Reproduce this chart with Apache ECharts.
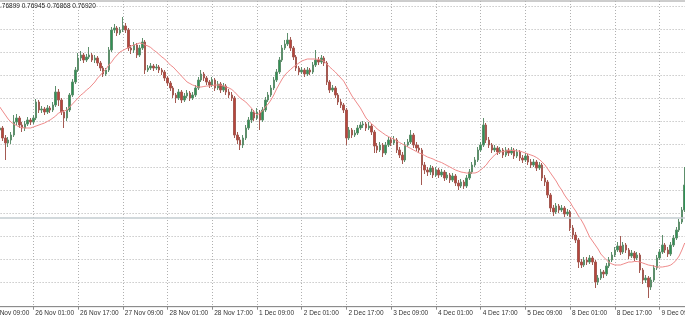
<!DOCTYPE html>
<html><head><meta charset="utf-8">
<script src="https://cdn.jsdelivr.net/npm/echarts@6/dist/echarts.min.js"></script>
<style>html,body{margin:0;padding:0;background:#fff}#c{width:685px;height:320px}</style>
</head><body><div id="c"></div>
<script>
const tickLabels = ['25 Nov 09:00','26 Nov 01:00','26 Nov 17:00','27 Nov 09:00','28 Nov 01:00','28 Nov 17:00','1 Dec 09:00','2 Dec 01:00','2 Dec 17:00','3 Dec 09:00','4 Dec 01:00','4 Dec 17:00','5 Dec 09:00','8 Dec 01:00','8 Dec 17:00','9 Dec 09:00'];
const barsPerLabel = 16;
const lastQuote = '0.76899 0.76945 0.76868 0.76920';
const bidPrice = 0.7692;
const priceMin = 0.7636, priceMax = 0.7912, priceStep = 0.0023;

const opens = [
.7810,.7806,.7800,.7793,.7788,.7790,.7780,.7775,.7778,.7783,
.7796,.7800,.7793,.7790,.7794,.7798,.7796,.7800,.7816,.7808,
.7809,.7806,.7810,.7808,.7813,.7826,.7818,.7806,.7800,.7808,
.7823,.7836,.7848,.7860,.7863,.7858,.7861,.7863,.7858,.7860,
.7855,.7850,.7844,.7848,.7868,.7888,.7890,.7885,.7888,.7892,
.7888,.7870,.7868,.7873,.7863,.7870,.7876,.7848,.7850,.7852,
.7850,.7851,.7848,.7846,.7840,.7835,.7830,.7823,.7820,.7826,
.7818,.7822,.7825,.7820,.7823,.7830,.7838,.7844,.7840,.7836,
.7833,.7838,.7830,.7834,.7828,.7832,.7826,.7823,.7820,.7783,
.7778,.7773,.7780,.7790,.7798,.7806,.7800,.7806,.7798,.7808,
.7818,.7823,.7830,.7838,.7846,.7858,.7870,.7874,.7878,.7870,
.7861,.7850,.7846,.7848,.7844,.7848,.7846,.7853,.7858,.7856,
.7860,.7855,.7836,.7828,.7830,.7823,.7816,.7813,.7808,.7780,
.7788,.7783,.7785,.7790,.7793,.7794,.7790,.7792,.7786,.7772,
.7768,.7773,.7765,.7773,.7778,.7775,.7778,.7768,.7763,.7758,
.7773,.7776,.7783,.7773,.7770,.7768,.7753,.7748,.7746,.7750,
.7743,.7748,.7743,.7746,.7740,.7743,.7738,.7742,.7735,.7732,
.7736,.7732,.7740,.7746,.7753,.7758,.7768,.7773,.7793,.7778,
.7773,.7768,.7770,.7766,.7768,.7763,.7768,.7765,.7768,.7762,
.7766,.7760,.7758,.7762,.7756,.7753,.7756,.7750,.7753,.7740,
.7736,.7723,.7710,.7706,.7712,.7708,.7710,.7704,.7706,.7690,
.7683,.7678,.7656,.7653,.7658,.7656,.7660,.7656,.7636,.7640,
.7646,.7644,.7652,.7658,.7663,.7668,.7672,.7666,.7673,.7668,
.7662,.7665,.7660,.7663,.7648,.7638,.7640,.7631,.7638,.7650,
.7660,.7666,.7673,.7668,.7664,.7673,.7680,.7688,.7696,.7708];

const closes = [
.7806,.7800,.7793,.7788,.7790,.7780,.7775,.7778,.7783,.7796,
.7800,.7793,.7790,.7794,.7798,.7796,.7800,.7816,.7808,.7809,
.7806,.7810,.7808,.7813,.7826,.7818,.7806,.7800,.7808,.7823,
.7836,.7848,.7860,.7863,.7858,.7861,.7863,.7858,.7860,.7855,
.7850,.7844,.7848,.7868,.7888,.7890,.7885,.7888,.7892,.7888,
.7870,.7868,.7873,.7863,.7870,.7876,.7848,.7850,.7852,.7850,
.7851,.7848,.7846,.7840,.7835,.7830,.7823,.7820,.7826,.7818,
.7822,.7825,.7820,.7823,.7830,.7838,.7844,.7840,.7836,.7833,
.7838,.7830,.7834,.7828,.7832,.7826,.7823,.7820,.7783,.7778,
.7773,.7780,.7790,.7798,.7806,.7800,.7806,.7798,.7808,.7818,
.7823,.7830,.7838,.7846,.7858,.7870,.7874,.7878,.7870,.7861,
.7850,.7846,.7848,.7844,.7848,.7846,.7853,.7858,.7856,.7860,
.7855,.7836,.7828,.7830,.7823,.7816,.7813,.7808,.7780,.7788,
.7783,.7785,.7790,.7793,.7794,.7790,.7792,.7786,.7772,.7768,
.7773,.7765,.7773,.7778,.7775,.7778,.7768,.7763,.7758,.7773,
.7776,.7783,.7773,.7770,.7768,.7753,.7748,.7746,.7750,.7743,
.7748,.7743,.7746,.7740,.7743,.7738,.7742,.7735,.7732,.7736,
.7732,.7740,.7746,.7753,.7758,.7768,.7773,.7793,.7778,.7773,
.7768,.7770,.7766,.7768,.7763,.7768,.7765,.7768,.7762,.7766,
.7760,.7758,.7762,.7756,.7753,.7756,.7750,.7753,.7740,.7736,
.7723,.7710,.7706,.7712,.7708,.7710,.7704,.7706,.7690,.7683,
.7678,.7656,.7653,.7658,.7656,.7660,.7656,.7636,.7640,.7646,
.7644,.7652,.7658,.7663,.7668,.7672,.7666,.7673,.7668,.7662,
.7665,.7660,.7663,.7648,.7638,.7640,.7631,.7638,.7650,.7660,
.7666,.7673,.7668,.7664,.7673,.7680,.7688,.7696,.7708,.7733];

const lows = [
.7803,.7797,.7790,.7785,.7784,.7777,.7758,.7771,.7774,.7781,
.7793,.7790,.7786,.7787,.7792,.7793,.7794,.7798,.7805,.7805,
.7803,.7804,.7805,.7806,.7811,.7812,.7803,.7790,.7797,.7806,
.7821,.7834,.7846,.7857,.7855,.7856,.7859,.7856,.7855,.7852,
.7847,.7841,.7842,.7846,.7866,.7885,.7882,.7883,.7886,.7885,
.7867,.7864,.7865,.7860,.7861,.7868,.7844,.7846,.7848,.7847,
.7848,.7845,.7843,.7837,.7832,.7827,.7820,.7815,.7818,.7815,
.7816,.7820,.7817,.7818,.7821,.7828,.7836,.7837,.7833,.7830,
.7831,.7827,.7828,.7825,.7826,.7823,.7820,.7817,.7780,.7774,
.7768,.7770,.7778,.7788,.7795,.7797,.7798,.7788,.7796,.7806,
.7816,.7821,.7828,.7836,.7844,.7856,.7868,.7872,.7867,.7858,
.7847,.7843,.7844,.7841,.7842,.7843,.7844,.7851,.7853,.7854,
.7852,.7833,.7825,.7826,.7820,.7813,.7810,.7805,.7773,.7778,
.7780,.7781,.7783,.7788,.7790,.7787,.7788,.7783,.7765,.7765,
.7766,.7761,.7763,.7771,.7772,.7773,.7765,.7760,.7754,.7756,
.7771,.7774,.7770,.7767,.7765,.7733,.7744,.7742,.7743,.7740,
.7741,.7740,.7741,.7737,.7738,.7735,.7736,.7732,.7728,.7730,
.7729,.7730,.7738,.7744,.7751,.7756,.7766,.7771,.7775,.7770,
.7765,.7766,.7763,.7764,.7760,.7761,.7762,.7763,.7759,.7760,
.7757,.7755,.7756,.7753,.7750,.7751,.7747,.7748,.7737,.7732,
.7720,.7706,.7702,.7704,.7705,.7706,.7701,.7702,.7687,.7679,
.7675,.7650,.7650,.7651,.7653,.7654,.7653,.7630,.7633,.7638,
.7640,.7642,.7650,.7656,.7661,.7666,.7663,.7664,.7665,.7659,
.7660,.7657,.7658,.7645,.7634,.7635,.7620,.7628,.7636,.7648,
.7658,.7664,.7665,.7661,.7662,.7671,.7678,.7686,.7694,.7706];

const highs = [
.7813,.7808,.7802,.7796,.7792,.7792,.7783,.7781,.7786,.7803,
.7804,.7802,.7796,.7797,.7801,.7800,.7803,.7819,.7818,.7812,
.7811,.7813,.7812,.7816,.7832,.7829,.7820,.7808,.7811,.7825,
.7839,.7851,.7865,.7867,.7865,.7864,.7871,.7865,.7863,.7862,
.7857,.7852,.7850,.7871,.7891,.7894,.7892,.7891,.7901,.7895,
.7890,.7873,.7876,.7875,.7873,.7880,.7878,.7853,.7855,.7854,
.7854,.7853,.7850,.7848,.7842,.7837,.7832,.7825,.7829,.7828,
.7825,.7828,.7827,.7826,.7833,.7841,.7848,.7846,.7842,.7838,
.7841,.7840,.7837,.7836,.7835,.7834,.7829,.7826,.7822,.7786,
.7781,.7783,.7793,.7801,.7809,.7808,.7810,.7808,.7811,.7821,
.7826,.7833,.7841,.7849,.7861,.7873,.7878,.7885,.7881,.7872,
.7863,.7852,.7851,.7850,.7851,.7850,.7856,.7868,.7861,.7863,
.7862,.7857,.7838,.7833,.7832,.7825,.7819,.7815,.7810,.7791,
.7790,.7788,.7793,.7796,.7797,.7796,.7796,.7794,.7788,.7775,
.7776,.7775,.7776,.7781,.7781,.7782,.7780,.7771,.7766,.7776,
.7779,.7788,.7785,.7776,.7773,.7770,.7756,.7751,.7753,.7752,
.7751,.7750,.7749,.7748,.7746,.7745,.7745,.7744,.7738,.7739,
.7738,.7743,.7749,.7756,.7761,.7771,.7776,.7800,.7795,.7781,
.7775,.7773,.7772,.7771,.7770,.7771,.7770,.7771,.7770,.7769,
.7768,.7763,.7765,.7764,.7759,.7759,.7758,.7756,.7755,.7743,
.7738,.7725,.7713,.7715,.7714,.7713,.7712,.7709,.7708,.7693,
.7686,.7680,.7659,.7661,.7661,.7663,.7662,.7658,.7643,.7649,
.7648,.7655,.7661,.7666,.7671,.7676,.7682,.7676,.7675,.7670,
.7668,.7667,.7666,.7665,.7650,.7643,.7642,.7641,.7653,.7663,
.7669,.7683,.7675,.7671,.7676,.7683,.7691,.7699,.7711,.7751];

const maValues = [
.7820,.7818,.7816,.7814,.7811,.7807,.7803,.7799,.7796,.7794,
.77925,.7791,.77905,.7790,.7790,.7790,.7791,.7792,.7793,.7794,
.7795,.77965,.7798,.7800,.7802,.7805,.7806,.7807,.7808,.7811,
.7814,.7817,.7820,.7823,.7825,.7828,.7830,.7833,.7836,.7840,
.7843,.7846,.7849,.7853,.7856,.7860,.7863,.7866,.78675,.7869,
.78705,.7872,.7873,.7874,.7875,.78745,.7873,.7872,.78705,.7868,
.7866,.78635,.7861,.7859,.7856,.7853,.7851,.7848,.7845,.7842,
.7839,.7836,.78345,.7833,.7832,.7831,.7831,.78315,.7832,.7832,
.78325,.7833,.7833,.7833,.7832,.7831,.7830,.78285,.7826,.7823,
.7820,.7818,.7816,.7813,.7810,.7806,.7803,.7805,.7807,.7811,
.7814,.7818,.7823,.7829,.7834,.7839,.7843,.7846,.78485,.7851,
.7853,.7855,.7857,.7858,.7859,.7859,.7859,.7859,.78585,.7858,
.78565,.7854,.7851,.78485,.7846,.7843,.7840,.7837,.7832,.7827,
.7822,.7818,.7814,.7810,.7805,.7800,.7797,.7794,.7792,.7789,
.7787,.7785,.7783,.77815,.7780,.7779,.7777,.77755,.7774,.77725,
.7771,.77695,.7768,.77665,.7765,.7764,.77625,.7761,.7760,.7759,
.77575,.77565,.77555,.7754,.77525,.7751,.77495,.7748,.7747,.7746,
.77455,.7745,.7745,.7745,.7745,.7746,.7748,.77505,.7753,.7757,
.7760,.7763,.7765,.7766,.77665,.7767,.77675,.77675,.77675,.7767,
.7767,.7766,.7765,.7764,.7763,.7762,.77605,.77585,.7756,.7753,
.7749,.7745,.7741,.7737,.7732,.7728,.7723,.7719,.7716,.7711,
.7707,.7702,.7698,.7693,.7687,.7681,.7677,.7673,.7669,.7664,
.7661,.7658,.76555,.7654,.7653,.7653,.7653,.7654,.7655,.7656,
.7656,.76565,.76565,.7656,.7655,.7654,.7653,.76525,.7652,.7651,
.7651,.7651,.76515,.7652,.7653,.7655,.7658,.7662,.7668,.7675];

// categories: one per hourly bar (plus two empty slots past the right edge)
const categories = [];
for (let i = 0; i < opens.length + 2; i++) categories.push(String(i));
const candleData = opens.map((o, i) => [o, closes[i], lows[i], highs[i]]);

const barStep = 44.73 / barsPerLabel;
const gridLeft = -11.4;
const gridWidth = (categories.length - 1) * barStep;
const dotted = { color: '#b0b0b0', type: [1, 2], width: 1 };
const axisGray = '#8c8c8c';

const chart = echarts.init(document.getElementById('c'), null, { renderer: 'canvas' });
chart.setOption({
  animation: false,
  backgroundColor: '#ffffff',
  title: {
    text: lastQuote, left: -3.6, top: 3, padding: 0,
    textStyle: { fontSize: 6.5, fontWeight: 'normal', color: '#222', fontFamily: 'Liberation Sans' }
  },
  grid: [
    { left: gridLeft, width: gridWidth, top: 6, height: 276, outerBoundsMode: 'none', containLabel: false },
    { left: gridLeft, width: gridWidth, top: 1, height: 305.7, outerBoundsMode: 'none', containLabel: false,
      show: true, borderColor: '#9a9a9a', borderWidth: 1, backgroundColor: 'transparent' }
  ],
  xAxis: [
    { gridIndex: 0, type: 'category', data: categories, boundaryGap: false, show: false },
    { gridIndex: 1, type: 'category', data: categories, boundaryGap: false,
      axisLine: { lineStyle: { color: axisGray, width: 1 } },
      axisTick: { show: true, interval: barsPerLabel - 1, length: 3, lineStyle: { color: axisGray } },
      axisLabel: { interval: barsPerLabel - 1, align: 'left', padding: [0, 0, 0, 2], margin: 3,
        fontSize: 6.5, color: '#333', fontFamily: 'Liberation Sans', hideOverlap: false,
        formatter: (v, idx) => (idx % barsPerLabel === 0 ? (tickLabels[idx / barsPerLabel] || '') : '') },
      splitLine: { show: true, interval: barsPerLabel - 1, lineStyle: dotted }
    }
  ],
  yAxis: [
    { gridIndex: 0, type: 'value', min: priceMin, max: priceMax, interval: priceStep,
      axisLine: { show: false }, axisTick: { show: false }, axisLabel: { show: false },
      splitLine: { show: true, lineStyle: dotted } },
    { gridIndex: 1, type: 'value', show: false }
  ],
  series: [
    { type: 'candlestick', xAxisIndex: 0, yAxisIndex: 0, data: candleData, clip: false,
      barWidth: 2,
      itemStyle: { color: '#2f9155', color0: '#b8453c', borderColor: '#5e8f6c', borderColor0: '#a45a52', borderWidth: 1 },
      markLine: { silent: true, symbol: ['none', 'none'], label: { show: false },
        lineStyle: { color: '#c3ccd1', type: 'solid', width: 1.5 },
        data: [{ yAxis: bidPrice }] }
    },
    { type: 'line', xAxisIndex: 0, yAxisIndex: 0, data: maValues, showSymbol: false, clip: false,
      lineStyle: { color: '#ef8b8b', width: 1 }, z: 3 }
  ]
});
</script></body></html>
